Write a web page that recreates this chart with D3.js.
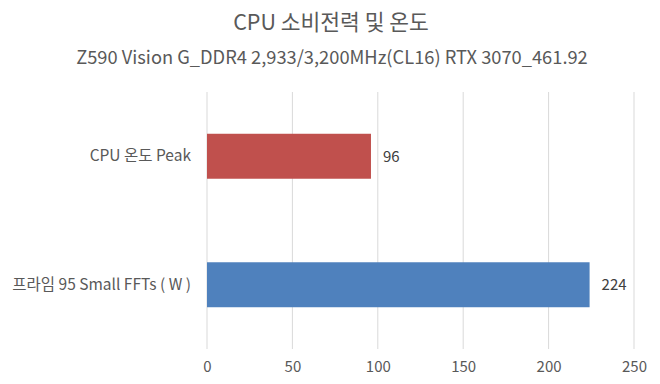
<!DOCTYPE html>
<html>
<head>
<meta charset="utf-8">
<script src="https://cdn.jsdelivr.net/npm/d3@7"></script>
<style>
  body { margin: 0; background: #fff; }
  svg text { font-family: "Noto Sans CJK KR", "Noto Sans", sans-serif; }
</style>
</head>
<body>
<svg id="chart" width="660" height="384"></svg>
<script>
const categories = ['CPU 온도 Peak', '프라임 95 Small FFTs ( W )']
const values = [96, 224]
const colors = ['#c0504d', '#4f81bd']
const xTicks = [0, 50, 100, 150, 200, 250]
const title = 'CPU 소비전력 및 온도'
const subtitle = 'Z590 Vision G_DDR4 2,933/3,200MHz(CL16) RTX 3070_461.92'

const svg = d3.select('#chart')
const margin = {top: 92, right: 26, bottom: 35, left: 207}
const width = +svg.attr('width')
const height = +svg.attr('height')
const innerW = width - margin.left - margin.right
const innerH = height - margin.top - margin.bottom
const font = '"Noto Sans CJK KR", "Noto Sans", sans-serif'

svg.append('text')
   .attr('x', 331).attr('y', 30)
   .attr('text-anchor', 'middle')
   .attr('font-size', 21.5).attr('fill', '#595959')
   .text(title)
svg.append('text')
   .attr('x', 332).attr('y', 64)
   .attr('text-anchor', 'middle')
   .attr('font-size', 18.3).attr('fill', '#595959')
   .text(subtitle)

const g = svg.append('g')
             .attr('transform', `translate(${margin.left},${margin.top})`)

const x = d3.scaleLinear().domain([0, 250]).range([0, innerW])
const y = d3.scaleBand().domain(categories).range([0, innerH])
            .paddingInner(0.65).paddingOuter(0.325)

// gridlines
g.selectAll('line.grid').data(xTicks).enter().append('line')
 .attr('class', 'grid')
 .attr('x1', d => x(d)).attr('x2', d => x(d))
 .attr('y1', 0).attr('y2', innerH)
 .attr('stroke', '#d9d9d9').attr('stroke-width', 1)

// bars
g.selectAll('rect').data(values).enter().append('rect')
 .attr('x', x(0))
 .attr('y', (d, i) => y(categories[i]))
 .attr('width', d => x(d) - x(0))
 .attr('height', y.bandwidth())
 .attr('fill', (d, i) => colors[i])

// value labels
g.selectAll('text.val').data(values).enter().append('text')
 .attr('class', 'val')
 .attr('x', d => x(d) + 12)
 .attr('y', (d, i) => y(categories[i]) + y.bandwidth() / 2)
 .attr('dy', '0.35em')
 .attr('font-size', 15).attr('fill', '#404040')
 .text(d => d)

// x axis
const xAxis = g.append('g').attr('transform', `translate(0,${innerH})`)
  .call(d3.axisBottom(x).tickValues(xTicks).tickSize(0).tickPadding(12))
xAxis.select('.domain').remove()
xAxis.selectAll('text').attr('font-size', 15).attr('fill', '#595959')
     .style('font-family', font)

// y axis
const yAxis = g.append('g')
  .call(d3.axisLeft(y).tickSize(0).tickPadding(16))
yAxis.select('.domain').remove()
yAxis.selectAll('text').attr('font-size', 15.5).attr('fill', '#595959')
     .style('font-family', font)
</script>
</body>
</html>
